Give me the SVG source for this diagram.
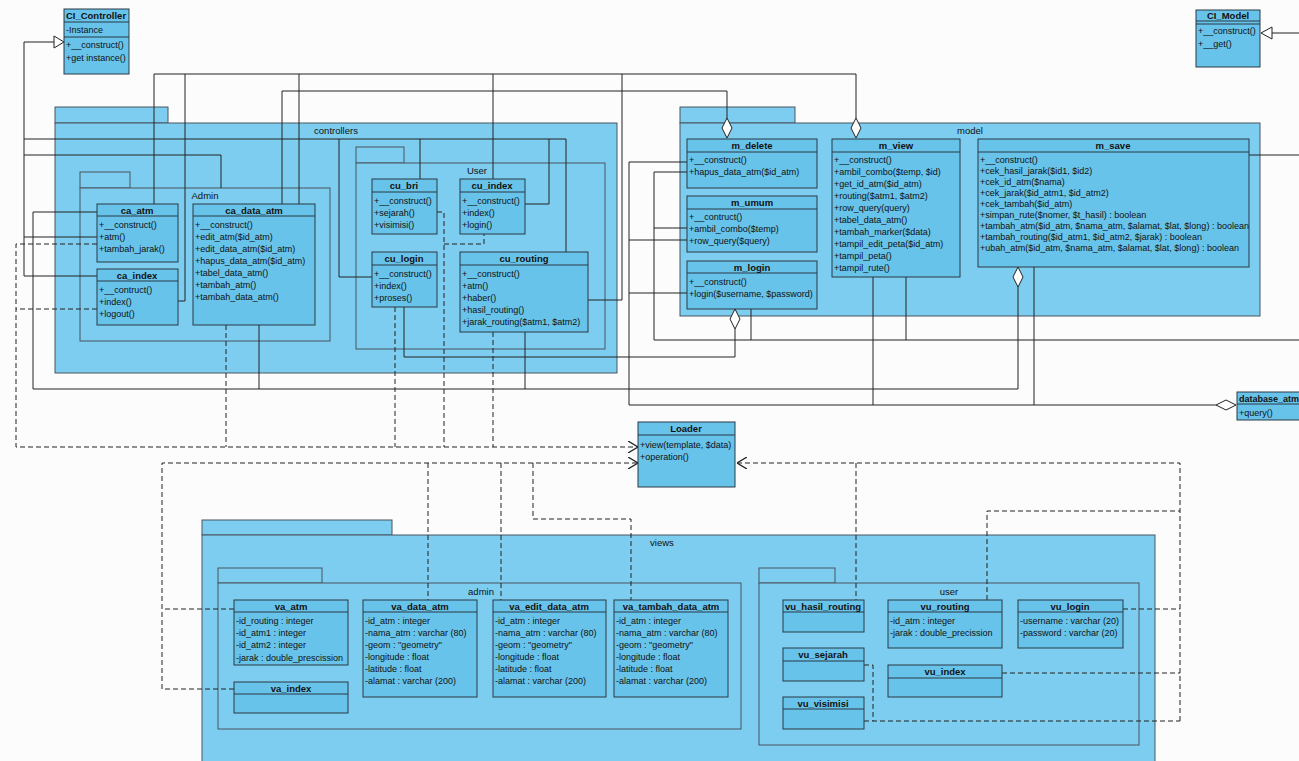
<svg xmlns="http://www.w3.org/2000/svg" width="1299" height="761" viewBox="0 0 1299 761">
<defs>
<style>
.pk{fill:#7ccdef;stroke:#4a5560;stroke-width:1}
.cl{fill:#68c3ea;stroke:#2b3845;stroke-width:1}
.ln{stroke:#2b3845;stroke-width:1;fill:none}
.c{stroke:#222;stroke-width:1;fill:none}
.d{stroke:#222;stroke-width:1;fill:none;stroke-dasharray:5,3}
text{font-family:"Liberation Sans",Arial,sans-serif;font-size:9px;fill:#111}
.n{font-weight:bold;text-anchor:middle;font-size:9.5px}
.p{text-anchor:middle;font-size:9.5px}
</style>
<marker id="open" viewBox="0 0 10 12" refX="10" refY="6" markerWidth="10" markerHeight="12" orient="auto" markerUnits="userSpaceOnUse">
<path d="M0,0 L10,6 L0,12" fill="none" stroke="#222" stroke-width="1.3"/>
</marker>
</defs>
<rect width="1299" height="761" fill="#fcfcfc"/>

<!-- packages -->
<g id="pkg-controllers"><rect class="pk" x="55" y="107" width="113" height="16"/><rect class="pk" x="55" y="123" width="562" height="250"/><text class="p" x="336" y="134">controllers</text></g>
<g id="pkg-admin"><rect class="pk" x="80" y="172" width="50" height="16"/><rect class="pk" x="80" y="188" width="250" height="153"/><text class="p" x="205" y="199">Admin</text></g>
<g id="pkg-user"><rect class="pk" x="356" y="147" width="48" height="16"/><rect class="pk" x="356" y="163" width="249" height="186"/><text class="p" x="477" y="174">User</text></g>
<g id="pkg-model"><rect class="pk" x="680" y="107" width="115" height="16"/><rect class="pk" x="680" y="123" width="580" height="193"/><text class="p" x="970" y="134">model</text></g>
<g id="pkg-views"><rect class="pk" x="202" y="520" width="190" height="15"/><rect class="pk" x="202" y="535" width="953" height="240"/><text class="p" x="662" y="546">views</text></g>
<g id="pkg-vadmin"><rect class="pk" x="218" y="568" width="104" height="15"/><rect class="pk" x="218" y="583" width="523" height="146"/><text class="p" x="481" y="595">admin</text></g>
<g id="pkg-vuser"><rect class="pk" x="759" y="568" width="76" height="15"/><rect class="pk" x="759" y="583" width="380" height="162"/><text class="p" x="949" y="595">user</text></g>

<!-- connectors -->
<g id="connectors">
<!-- generalization to CI_Controller -->
<path class="c" d="M24,42 H54 M24,42 V276 H97 M24,237 H97 M24,139 H566 V252 M339,139 V277 H372 M420,139 V179 M549,139 V204 H525 M24,155 H221 V188"/>
<path d="M54,36 L64,42 L54,48 Z" fill="#fff" stroke="#222"/>
<!-- aggregation to m_view -->
<path class="c" d="M856,118 V74 H154 V204 M185,74 V301 H178 M299,74 V204 M493,74 V179 M622,74 V300 H588"/>
<path d="M856,118 L851,128 L856,138 L861,128 Z" fill="#fff" stroke="#222"/>
<!-- aggregation to m_delete -->
<path class="c" d="M727,118 V91 H282 V204"/>
<path d="M727,118 L722,128 L727,138 L732,128 Z" fill="#fff" stroke="#222"/>
<!-- aggregation to m_login -->
<path class="c" d="M404,307 V357 H735 V329"/>
<path d="M735,309 L730,319 L735,329 L740,319 Z" fill="#fff" stroke="#222"/>
<!-- aggregation to m_save -->
<path class="c" d="M97,212 H33 V389 H1018 V287 M259,325 V389 M525,332 V389"/>
<path d="M1018,267 L1013,277 L1018,287 L1023,277 Z" fill="#fff" stroke="#222"/>
<!-- generalization to CI_Model -->
<path class="c" d="M687,172 H654 V340 H1299 M687,228 H654 M751,309 V340 M906,277 V340 M1249,155 H1299 M1272,33 H1299"/>
<path d="M1272,27 L1261,33 L1272,39 Z" fill="#fff" stroke="#222"/>
<!-- aggregation to database_atm -->
<path class="c" d="M687,162 H629 V405 H1216 M687,240 H629 M687,293 H629 M873,277 V405 M1034,267 V405"/>
<path d="M1216,405 L1226,400 L1236,405 L1226,410 Z" fill="#fff" stroke="#222"/>

<!-- dependencies to Loader -->
<path class="d" d="M97,244 H16 V447 H638" marker-end="url(#open)"/>
<path class="d" d="M97,309 H16 M226,325 V447 M395,307 V447 M437,212 H444 V447 M444,244 H484 V234 M493,332 V447"/>
<path class="d" d="M162,689 V463 H638" marker-end="url(#open)"/>
<path class="d" d="M234,609 H162 M234,689 H162 M428,463 V600 M501,463 V600 M533,463 V519 H631 V600"/>
<path class="d" d="M1180,721 V463 H737" marker-end="url(#open)"/>
<path class="d" d="M1123,609 H1180 M1002,673 H1180 M864,665 H873 V721 H1180 M864,721 H873 M856,463 V600 M987,600 V511 H1180"/>
</g>

<!-- nodes -->
<g id="CI_Controller"><rect class="cl" x="64" y="9" width="65" height="65"/><path class="ln" d="M64,22 H129 M64,37 H129"/><text class="n" x="96" y="19">CI_Controller</text><text x="66" y="33">-Instance</text><text x="66" y="48">+__construct()</text><text x="66" y="61">+get instance()</text></g>
<g id="CI_Model"><rect class="cl" x="1196" y="10" width="64" height="57"/><path class="ln" d="M1196,21 H1260 M1196,24 H1260"/><text class="n" x="1228" y="19">CI_Model</text><text x="1198" y="34">+__construct()</text><text x="1198" y="47">+__get()</text></g>

<g id="ca_atm"><rect class="cl" x="97" y="204" width="81" height="58"/><path class="ln" d="M97,216 H178"/><text class="n" x="137" y="214">ca_atm</text><text x="99" y="228">+__construct()</text><text x="99" y="240">+atm()</text><text x="99" y="252">+tambah_jarak()</text></g>
<g id="ca_index"><rect class="cl" x="97" y="269" width="81" height="56"/><path class="ln" d="M97,281 H178"/><text class="n" x="137" y="279">ca_index</text><text x="99" y="293">+__contruct()</text><text x="99" y="305">+index()</text><text x="99" y="317">+logout()</text></g>
<g id="ca_data_atm"><rect class="cl" x="193" y="204" width="122" height="121"/><path class="ln" d="M193,216 H315"/><text class="n" x="254" y="214">ca_data_atm</text><text x="195" y="228">+__construct()</text><text x="195" y="240">+edit_atm($id_atm)</text><text x="195" y="252">+edit_data_atm($id_atm)</text><text x="195" y="264">+hapus_data_atm($id_atm)</text><text x="195" y="276">+tabel_data_atm()</text><text x="195" y="288">+tambah_atm()</text><text x="195" y="300">+tambah_data_atm()</text></g>

<g id="cu_bri"><rect class="cl" x="372" y="179" width="65" height="55"/><path class="ln" d="M372,192 H437"/><text class="n" x="404" y="189">cu_bri</text><text x="374" y="204">+__construct()</text><text x="374" y="216">+sejarah()</text><text x="374" y="228">+visimisi()</text></g>
<g id="cu_index"><rect class="cl" x="460" y="179" width="65" height="55"/><path class="ln" d="M460,192 H525"/><text class="n" x="492" y="189">cu_index</text><text x="462" y="204">+__construct()</text><text x="462" y="216">+index()</text><text x="462" y="228">+login()</text></g>
<g id="cu_login"><rect class="cl" x="372" y="252" width="65" height="55"/><path class="ln" d="M372,265 H437"/><text class="n" x="404" y="262">cu_login</text><text x="374" y="277">+__construct()</text><text x="374" y="289">+index()</text><text x="374" y="301">+proses()</text></g>
<g id="cu_routing"><rect class="cl" x="460" y="252" width="128" height="80"/><path class="ln" d="M460,265 H588"/><text class="n" x="524" y="262">cu_routing</text><text x="462" y="277">+__construct()</text><text x="462" y="289">+atm()</text><text x="462" y="301">+haber()</text><text x="462" y="313">+hasil_routing()</text><text x="462" y="325">+jarak_routing($atm1, $atm2)</text></g>

<g id="m_delete"><rect class="cl" x="687" y="139" width="130" height="49"/><path class="ln" d="M687,152 H817"/><text class="n" x="752" y="149">m_delete</text><text x="689" y="163">+__construct()</text><text x="689" y="175">+hapus_data_atm($id_atm)</text></g>
<g id="m_umum"><rect class="cl" x="687" y="196" width="130" height="56"/><path class="ln" d="M687,209 H817"/><text class="n" x="752" y="206">m_umum</text><text x="689" y="220">+__contruct()</text><text x="689" y="232">+ambil_combo($temp)</text><text x="689" y="244">+row_query($query)</text></g>
<g id="m_login"><rect class="cl" x="687" y="261" width="130" height="48"/><path class="ln" d="M687,273 H817"/><text class="n" x="752" y="271">m_login</text><text x="689" y="285">+__construct()</text><text x="689" y="297">+login($username, $password)</text></g>
<g id="m_view"><rect class="cl" x="832" y="139" width="128" height="138"/><path class="ln" d="M832,152 H960"/><text class="n" x="896" y="149">m_view</text><text x="834" y="163">+__construct()</text><text x="834" y="175">+ambil_combo($temp, $id)</text><text x="834" y="187">+get_id_atm($id_atm)</text><text x="834" y="199">+routing($atm1, $atm2)</text><text x="834" y="211">+row_query(query)</text><text x="834" y="223">+tabel_data_atm()</text><text x="834" y="235">+tambah_marker($data)</text><text x="834" y="247">+tampil_edit_peta($id_atm)</text><text x="834" y="259">+tampil_peta()</text><text x="834" y="271">+tampil_rute()</text></g>
<g id="m_save"><rect class="cl" x="978" y="139" width="271" height="128"/><path class="ln" d="M978,152 H1249"/><text class="n" x="1113" y="149">m_save</text><text x="980" y="163">+__construct()</text><text x="980" y="174">+cek_hasil_jarak($id1, $id2)</text><text x="980" y="185">+cek_id_atm($nama)</text><text x="980" y="196">+cek_jarak($id_atm1, $id_atm2)</text><text x="980" y="207">+cek_tambah($id_atm)</text><text x="980" y="218">+simpan_rute($nomer, $t_hasil) : boolean</text><text x="980" y="229">+tambah_atm($id_atm, $nama_atm, $alamat, $lat, $long) : boolean</text><text x="980" y="240">+tambah_routing($id_atm1, $id_atm2, $jarak) : boolean</text><text x="980" y="251">+ubah_atm($id_atm, $nama_atm, $alamat, $lat, $long) : boolean</text></g>

<g id="Loader"><rect class="cl" x="638" y="422" width="97" height="65"/><path class="ln" d="M638,435 H735"/><text class="n" x="686" y="432">Loader</text><text x="640" y="448">+view(template, $data)</text><text x="640" y="460">+operation()</text></g>
<g id="database_atm"><rect class="cl" x="1237" y="392" width="70" height="28"/><path class="ln" d="M1237,404 H1307"/><text x="1239" y="402" font-weight="bold" font-size="9">database_atm</text><text x="1239" y="416">+query()</text></g>

<g id="va_atm"><rect class="cl" x="234" y="600" width="114" height="65"/><path class="ln" d="M234,612 H348"/><text class="n" x="291" y="610">va_atm</text><text x="236" y="624">-id_routing : integer</text><text x="236" y="636">-id_atm1 : integer</text><text x="236" y="648">-id_atm2 : integer</text><text x="236" y="661">-jarak : double_prescission</text></g>
<g id="va_index"><rect class="cl" x="234" y="682" width="114" height="31"/><path class="ln" d="M234,694 H348"/><text class="n" x="291" y="692">va_index</text></g>
<g id="va_data_atm"><rect class="cl" x="363" y="600" width="114" height="97"/><path class="ln" d="M363,612 H477"/><text class="n" x="420" y="610">va_data_atm</text><text x="365" y="624">-id_atm : integer</text><text x="365" y="636">-nama_atm : varchar (80)</text><text x="365" y="648">-geom : "geometry"</text><text x="365" y="660">-longitude : float</text><text x="365" y="672">-latitude : float</text><text x="365" y="684">-alamat : varchar (200)</text></g>
<g id="va_edit_data_atm"><rect class="cl" x="493" y="600" width="113" height="97"/><path class="ln" d="M493,612 H606"/><text class="n" x="549" y="610">va_edit_data_atm</text><text x="495" y="624">-id_atm : integer</text><text x="495" y="636">-nama_atm : varchar (80)</text><text x="495" y="648">-geom : "geometry"</text><text x="495" y="660">-longitude : float</text><text x="495" y="672">-latitude : float</text><text x="495" y="684">-alamat : varchar (200)</text></g>
<g id="va_tambah_data_atm"><rect class="cl" x="614" y="600" width="114" height="97"/><path class="ln" d="M614,612 H728"/><text class="n" x="671" y="610">va_tambah_data_atm</text><text x="616" y="624">-id_atm : integer</text><text x="616" y="636">-nama_atm : varchar (80)</text><text x="616" y="648">-geom : "geometry"</text><text x="616" y="660">-longitude : float</text><text x="616" y="672">-latitude : float</text><text x="616" y="684">-alamat : varchar (200)</text></g>

<g id="vu_hasil_routing"><rect class="cl" x="783" y="600" width="81" height="32"/><path class="ln" d="M783,612 H864"/><text class="n" x="823" y="610">vu_hasil_routing</text></g>
<g id="vu_sejarah"><rect class="cl" x="783" y="648" width="81" height="33"/><path class="ln" d="M783,661 H864"/><text class="n" x="823" y="658">vu_sejarah</text></g>
<g id="vu_visimisi"><rect class="cl" x="783" y="697" width="81" height="32"/><path class="ln" d="M783,709 H864"/><text class="n" x="823" y="707">vu_visimisi</text></g>
<g id="vu_routing"><rect class="cl" x="888" y="600" width="114" height="48"/><path class="ln" d="M888,612 H1002"/><text class="n" x="945" y="610">vu_routing</text><text x="890" y="624">-id_atm : integer</text><text x="890" y="636">-jarak : double_precission</text></g>
<g id="vu_index"><rect class="cl" x="888" y="665" width="114" height="32"/><path class="ln" d="M888,678 H1002"/><text class="n" x="945" y="675">vu_index</text></g>
<g id="vu_login"><rect class="cl" x="1018" y="600" width="105" height="48"/><path class="ln" d="M1018,612 H1123"/><text class="n" x="1070" y="610">vu_login</text><text x="1020" y="624">-username : varchar (20)</text><text x="1020" y="636">-password : varchar (20)</text></g>
</svg>
